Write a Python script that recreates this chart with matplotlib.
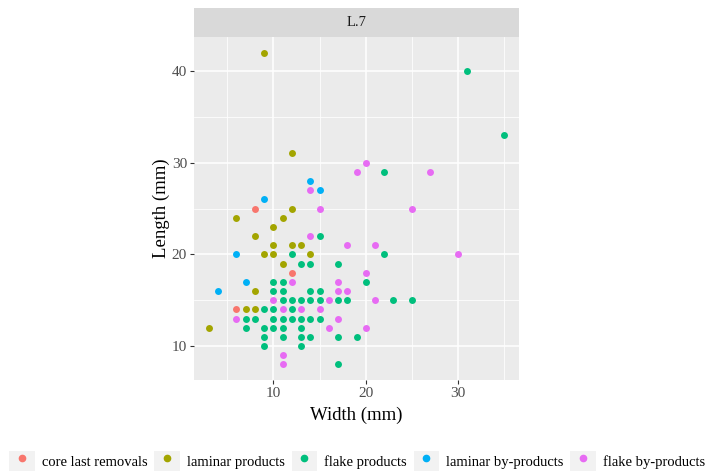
import matplotlib
matplotlib.use("Agg")
import matplotlib.pyplot as plt
from matplotlib.lines import Line2D
from matplotlib.patches import Patch
from matplotlib.legend_handler import HandlerTuple

plt.rcParams['font.family'] = ['Liberation Serif', 'DejaVu Serif']

# dane (szerokość, długość) w mm
groups = ["core last removals", "laminar products", "flake products",
          "laminar by-products", "flake by-products"]
colors = ["#F8766D", "#A3A500", "#00BF7D", "#00B0F6", "#E76BF3"]

core_w = [8, 12, 6]
core_l = [25, 18, 14]

lam_w = [9, 12, 12, 6, 11, 10, 8, 10, 12, 13, 9, 10, 14, 11, 8, 7, 8, 3]
lam_l = [42, 31, 25, 24, 24, 23, 22, 21, 21, 21, 20, 20, 20, 19, 16, 14, 14, 12]

flake_w = [31, 35, 22, 15, 22, 12, 13, 14, 17, 10, 11, 20, 10, 11, 14, 15,
           11, 12, 13, 14, 15, 17, 18, 23, 25, 9, 10, 12,
           7, 8, 10, 11, 12, 13, 14, 15, 7, 9, 10, 11, 13,
           9, 11, 13, 14, 17, 19, 9, 13, 17]
flake_l = [40, 33, 29, 22, 20, 20, 19, 19, 19, 17, 17, 17, 16, 16, 16, 16,
           15, 15, 15, 15, 15, 15, 15, 15, 15, 14, 14, 14,
           13, 13, 13, 13, 13, 13, 13, 13, 12, 12, 12, 12, 12,
           11, 11, 11, 11, 11, 11, 10, 10, 8]

lamby_w = [14, 15, 9, 6, 7, 4]
lamby_l = [28, 27, 26, 20, 17, 16]

flby_w = [20, 19, 27, 14, 15, 25, 14, 18, 21, 30, 20, 12, 17, 17, 18, 10, 16,
          21, 11, 13, 15, 6, 17, 16, 20, 11, 11]
flby_l = [30, 29, 29, 27, 25, 25, 22, 21, 21, 20, 18, 17, 17, 16, 16, 15, 15,
          15, 14, 14, 14, 13, 13, 12, 12, 9, 8]

widths = [core_w, lam_w, flake_w, lamby_w, flby_w]
lengths = [core_l, lam_l, flake_l, lamby_l, flby_l]

fig = plt.figure(figsize=(7.06, 4.71), dpi=100)
ax = fig.add_axes([194/706, 1 - 380/471, 325/706, 343/471])
ax.set_facecolor("#EBEBEB")
for s in ax.spines.values():
    s.set_visible(False)

ax.set_xlim(1.4, 36.6)
ax.set_ylim(6.3, 43.7)
ax.set_xticks([10, 20, 30])
ax.set_xticks([5, 15, 25, 35], minor=True)
ax.set_yticks([10, 20, 30, 40])
ax.set_yticks([15, 25, 35], minor=True)
ax.grid(True, which="major", color="white", linewidth=1.1)
ax.grid(True, which="minor", color="white", linewidth=0.55)
ax.set_axisbelow(True)
ax.tick_params(which="major", length=3, width=0.8, color="#333333",
               labelcolor="#4D4D4D", labelsize=11, pad=2)
ax.tick_params(which="minor", length=0)

for w, l, c in zip(widths, lengths, colors):
    ax.scatter(w, l, s=25, color=c, linewidths=0, zorder=3)

ax.set_xlabel("Width (mm)", fontsize=13.5, labelpad=5)
ax.set_ylabel("Length (mm)", fontsize=13.5, labelpad=1)

# pasek z nazwą panelu
strip = fig.add_axes([194/706, 1 - 37/471, 325/706, 29/471])
strip.set_facecolor("#D9D9D9")
strip.set_xticks([])
strip.set_yticks([])
for s in strip.spines.values():
    s.set_visible(False)
strip.text(0.5, 0.5, "L.7", ha="center", va="center", fontsize=10.5,
           color="#1A1A1A", transform=strip.transAxes)

# legenda
handles = []
for c in colors:
    bg = Patch(facecolor="#F2F2F2", edgecolor="none")
    dot = Line2D([], [], marker="o", linestyle="none", color=c, markersize=4.5)
    handles.append((bg, dot))
fig.legend(handles, groups, handler_map={tuple: HandlerTuple(ndivide=1)},
           loc="center", bbox_to_anchor=(0.506, 1 - 461/471), ncol=5,
           frameon=False, fontsize=10.5, handlelength=1.75, handleheight=1.75,
           handletextpad=0.5, columnspacing=0.45, borderaxespad=0)

fig.savefig("out.png", dpi=100)
